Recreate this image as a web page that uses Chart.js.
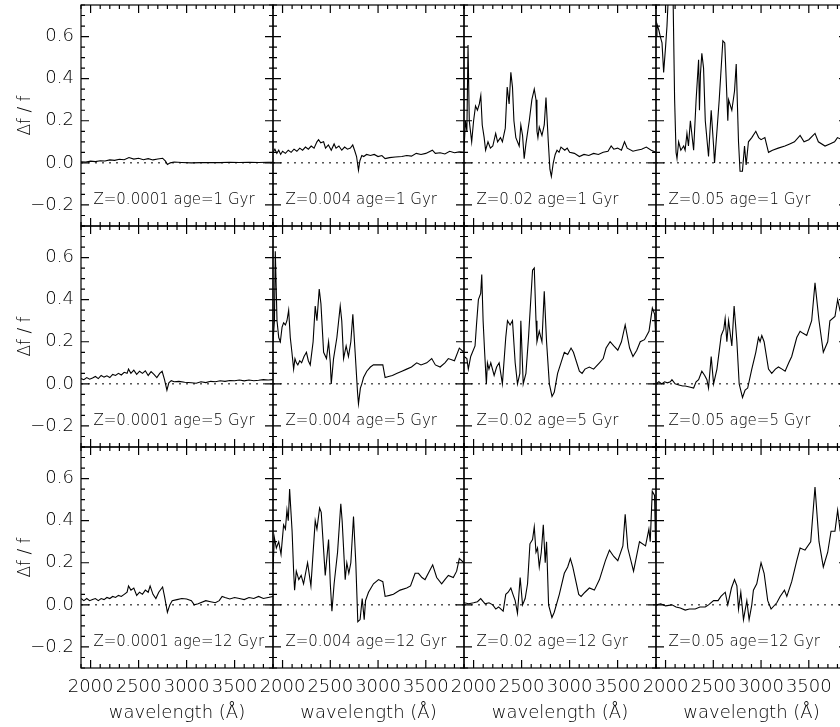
<!DOCTYPE html>
<html>
<head>
<meta charset="utf-8">
<script src="https://cdn.jsdelivr.net/npm/chart.js@4.4.1/dist/chart.umd.min.js"></script>
<style>
  body { margin: 0; background: #fff; overflow: hidden; }
  #fig { position: relative; width: 840px; height: 727px; overflow: hidden; background: #fff; }
  #fig canvas { position: absolute; }
</style>
</head>
<body>
<div id="fig"></div>
<script>
/**************** DATA ****************/
const wavelengthTicks = [2000, 2500, 3000, 3500];
const fluxTicks = [-0.2, 0.0, 0.2, 0.4, 0.6];
const metallicities = ["0.0001", "0.004", "0.02", "0.05"];
const agesGyr = ["1", "5", "12"];

// [wavelength (A), delta f / f]
const a1_z1 = [[1900,.005],[1950,.004],[2000,.008],[2050,.006],[2100,.01],[2150,.009],[2200,.014],[2250,.012],[2300,.017],[2350,.015],[2400,.025],[2450,.018],[2500,.022],[2550,.015],[2600,.02],[2650,.014],[2700,.018],[2750,.022],[2780,.008],[2800,-.008],[2830,0],[2870,.004],[2950,.002],[3050,0],[3150,.001],[3250,.002],[3350,.001],[3450,.003],[3550,.002],[3650,.003],[3750,.002],[3850,.003],[3900,.003]];
const a1_z2 = [[1900,.05],[1920,.065],[1940,.045],[1960,.06],[1980,.04],[2000,.055],[2030,.045],[2060,.06],[2090,.05],[2120,.065],[2150,.055],[2180,.07],[2210,.06],[2240,.075],[2270,.065],[2300,.08],[2330,.07],[2360,.1],[2377,.11],[2400,.095],[2430,.1],[2450,.07],[2480,.085],[2510,.06],[2540,.09],[2560,.07],[2590,.08],[2620,.06],[2650,.075],[2680,.065],[2710,.07],[2735,.085],[2754,.06],[2775,.03],[2795,-.035],[2810,.01],[2830,.035],[2850,.03],[2880,.04],[2920,.035],[2960,.04],[3000,.03],[3040,.035],[3074,.02],[3120,.025],[3180,.028],[3250,.03],[3300,.035],[3350,.032],[3400,.045],[3450,.04],[3500,.045],[3569,.06],[3600,.045],[3650,.048],[3700,.042],[3750,.055],[3800,.048],[3850,.052],[3900,.05]];
const a1_z3 = [[1900,.06],[1915,.2],[1930,.15],[1942,.56],[1955,.2],[1980,.1],[2000,.2],[2020,.27],[2040,.25],[2060,.28],[2075,.32],[2090,.18],[2110,.12],[2125,.06],[2150,.1],[2175,.07],[2200,.08],[2230,.14],[2250,.1],[2280,.12],[2300,.1],[2330,.165],[2350,.36],[2370,.28],[2388,.43],[2405,.36],[2420,.2],[2440,.12],[2475,.08],[2492,.18],[2510,.13],[2527,.02],[2545,.09],[2580,.2],[2607,.3],[2632,.35],[2650,.3],[2660,.15],[2670,.12],[2684,.17],[2712,.13],[2736,.18],[2754,.31],[2778,.1],[2795,-.03],[2810,-.065],[2830,0],[2850,.04],[2869,.06],[2890,.05],[2910,.075],[2950,.06],[2975,.07],[3000,.05],[3050,.045],[3102,.03],[3150,.04],[3200,.035],[3250,.045],[3300,.04],[3350,.05],[3400,.055],[3433,.08],[3460,.065],[3500,.07],[3540,.06],[3572,.1],[3600,.07],[3660,.055],[3700,.06],[3750,.065],[3799,.075],[3850,.06],[3900,.05]];
const a1_z4 = [[1900,.6],[1910,.66],[1930,.63],[1945,.6],[1963,.57],[1980,.43],[2000,.55],[2015,.65],[2030,.8],[2045,.8],[2060,.78],[2080,.75],[2095,.3],[2110,.05],[2120,.02],[2137,.1],[2160,.06],[2190,.08],[2205,.06],[2224,.14],[2240,.08],[2260,.2],[2294,.06],[2320,.3],[2346,.49],[2355,.25],[2365,.42],[2380,.52],[2398,.45],[2416,.2],[2440,.08],[2450,.03],[2478,.25],[2503,.08],[2513,0],[2538,.15],[2562,.3],[2600,.58],[2620,.57],[2652,.2],[2660,.3],[2694,.25],[2722,.34],[2740,.47],[2764,.1],[2780,-.04],[2805,-.04],[2827,.08],[2844,-.01],[2868,.1],[2903,.12],[2945,.15],[2975,.12],[3000,.11],[3040,.12],[3078,.05],[3120,.06],[3180,.07],[3250,.08],[3300,.09],[3350,.1],[3409,.13],[3450,.1],[3500,.11],[3565,.14],[3600,.1],[3670,.08],[3720,.09],[3770,.1],[3800,.12],[3850,.11],[3900,.11]];

const a5_z1 = [[1900,.025],[1930,.02],[1960,.03],[1990,.022],[2020,.028],[2050,.035],[2080,.025],[2110,.04],[2140,.032],[2170,.038],[2200,.03],[2230,.045],[2260,.04],[2290,.05],[2320,.042],[2350,.055],[2380,.05],[2395,.07],[2420,.05],[2450,.065],[2480,.045],[2510,.06],[2540,.05],[2570,.062],[2600,.04],[2630,.058],[2660,.045],[2690,.03],[2720,.05],[2745,.06],[2770,.02],[2795,-.03],[2815,.005],[2840,.015],[2870,.01],[2920,.012],[2980,.008],[3050,.005],[3100,.003],[3150,.01],[3200,.006],[3250,.012],[3300,.01],[3350,.015],[3400,.012],[3450,.016],[3500,.015],[3550,.018],[3600,.014],[3650,.018],[3700,.015],[3750,.017],[3800,.02],[3850,.018],[3900,.02]];
const a5_z2 = [[1900,.2],[1915,.3],[1924,.63],[1942,.3],[1960,.22],[1977,.2],[1995,.27],[2011,.29],[2030,.28],[2046,.3],[2064,.35],[2081,.22],[2098,.15],[2116,.07],[2130,.12],[2145,.1],[2160,.09],[2180,.11],[2200,.1],[2225,.13],[2250,.15],[2270,.11],[2290,.09],[2320,.2],[2342,.37],[2360,.3],[2384,.45],[2402,.38],[2430,.15],[2460,.12],[2482,.2],[2500,.1],[2510,0],[2534,.12],[2569,.22],[2604,.37],[2620,.3],[2639,.12],[2666,.18],[2690,.13],[2715,.2],[2736,.33],[2760,.15],[2785,-.04],[2795,-.095],[2815,-.02],[2830,0],[2848,.03],[2882,.06],[2920,.08],[2952,.09],[3000,.09],[3050,.09],[3074,.03],[3110,.035],[3150,.04],[3200,.05],[3250,.06],[3300,.07],[3350,.08],[3405,.1],[3450,.09],[3510,.1],[3562,.12],[3600,.09],[3650,.08],[3700,.1],[3736,.12],[3800,.11],[3851,.17],[3900,.15]];
const a5_z3 = [[1900,.13],[1930,.12],[1945,.07],[1970,.13],[2015,.18],[2030,.28],[2050,.4],[2074,.43],[2085,.52],[2099,.3],[2115,.15],[2133,0],[2144,.1],[2160,.07],[2179,.1],[2214,.04],[2240,.08],[2266,.1],[2300,0],[2335,.22],[2353,.3],[2380,.28],[2405,.3],[2433,.1],[2457,0],[2482,.05],[2492,.3],[2517,0],[2545,.05],[2572,.22],[2614,.54],[2632,.55],[2650,.3],[2660,.2],[2684,.25],[2712,.2],[2736,.44],[2760,.2],[2789,0],[2817,-.06],[2840,-.04],[2875,.05],[2910,.1],[2945,.15],[2980,.14],[3015,.17],[3040,.15],[3102,.06],[3130,.05],[3160,.07],[3206,.08],[3250,.07],[3311,.1],[3350,.12],[3380,.17],[3422,.2],[3460,.18],[3502,.16],[3540,.2],[3579,.28],[3625,.17],[3660,.13],[3700,.16],[3736,.2],[3780,.21],[3827,.25],[3862,.36],[3886,.33],[3900,.2]];
const a5_z4 = [[1900,0],[1930,.01],[1960,0],[1990,.01],[2020,.005],[2050,.01],[2067,.02],[2100,0],[2140,-.005],[2180,-.01],[2206,-.01],[2250,-.015],[2294,-.02],[2320,.01],[2346,.02],[2380,.06],[2410,.04],[2433,.02],[2450,-.02],[2478,.13],[2503,0],[2538,.07],[2583,.23],[2610,.26],[2624,.31],[2642,.2],[2660,.3],[2694,.18],[2718,.37],[2747,.2],[2771,0],[2806,-.065],[2833,-.03],[2860,-.02],[2903,.07],[2945,.15],[2973,.22],[2990,.2],[3008,.23],[3032,.2],[3078,.07],[3112,.05],[3150,.07],[3182,.08],[3220,.07],[3252,.06],[3290,.1],[3321,.13],[3374,.22],[3409,.25],[3440,.24],[3478,.23],[3530,.3],[3565,.48],[3607,.3],[3652,.15],[3698,.2],[3721,.3],[3774,.32],[3802,.4],[3826,.35],[3860,.38],[3900,.4]];

const a12_z1 = [[1900,.03],[1930,.02],[1960,.03],[1990,.02],[2020,.025],[2050,.03],[2080,.02],[2110,.03],[2140,.025],[2170,.035],[2200,.03],[2230,.04],[2260,.035],[2290,.045],[2320,.04],[2350,.05],[2380,.06],[2395,.09],[2420,.07],[2450,.08],[2480,.045],[2510,.06],[2540,.05],[2570,.07],[2600,.06],[2620,.09],[2650,.05],[2680,.03],[2710,.06],[2750,.085],[2770,.04],[2800,-.035],[2825,0],[2850,.02],[2900,.025],[2950,.03],[3000,.028],[3050,.02],[3080,0],[3120,.005],[3200,.02],[3250,.015],[3300,.01],[3340,.02],[3370,.04],[3400,.035],[3450,.028],[3500,.035],[3550,.03],[3600,.025],[3650,.035],[3700,.03],[3750,.04],[3800,.03],[3850,.035],[3900,.04]];
const a12_z2 = [[1900,.17],[1914,.32],[1935,.27],[1960,.3],[1984,.24],[2011,.38],[2030,.36],[2046,.45],[2060,.4],[2074,.55],[2100,.35],[2116,.16],[2126,.07],[2144,.16],[2170,.12],[2195,.14],[2220,.1],[2262,.2],[2297,.09],[2342,.4],[2360,.36],[2388,.46],[2405,.44],[2447,.14],[2482,.31],[2500,.1],[2517,-.03],[2540,.1],[2576,.25],[2610,.48],[2624,.4],[2656,.12],[2673,.2],[2694,.15],[2715,.2],[2743,.42],[2767,.2],[2788,-.08],[2812,-.07],[2834,.03],[2855,-.07],[2869,.02],[2900,.06],[2952,.1],[3005,.12],[3050,.11],[3074,.04],[3120,.045],[3161,.05],[3231,.07],[3300,.08],[3340,.09],[3388,.15],[3423,.15],[3460,.13],[3492,.12],[3572,.19],[3614,.13],[3666,.1],[3700,.12],[3736,.14],[3788,.13],[3823,.16],[3851,.22],[3900,.2]];
const a12_z3 = [[1900,.01],[1950,.005],[2000,.01],[2040,.015],[2074,.03],[2100,.015],[2120,.005],[2160,.01],[2200,0],[2231,-.02],[2260,-.01],[2308,-.03],[2335,.05],[2360,.06],[2388,.08],[2410,.05],[2433,.02],[2457,-.04],[2485,.13],[2510,0],[2537,.03],[2562,.1],[2587,.29],[2614,.31],[2632,.37],[2650,.25],[2666,.27],[2684,.18],[2705,.25],[2726,.38],[2746,.2],[2760,.3],[2781,0],[2816,-.06],[2840,-.035],[2893,.05],[2945,.15],[2980,.18],[3008,.22],[3033,.18],[3095,.05],[3120,.04],[3160,.06],[3206,.08],[3258,.07],[3311,.12],[3373,.21],[3415,.26],[3460,.23],[3502,.21],[3555,.28],[3579,.43],[3606,.27],[3666,.16],[3728,.3],[3791,.28],[3826,.36],[3840,.3],[3861,.54],[3885,.52],[3895,.3],[3900,.2]];
const a12_z4 = [[1900,0],[1950,.005],[2000,-.005],[2067,0],[2110,-.01],[2154,-.015],[2206,-.025],[2250,-.02],[2311,-.02],[2360,-.01],[2416,-.01],[2450,0],[2503,.02],[2550,.02],[2580,.04],[2625,.06],[2652,0],[2690,.08],[2722,.12],[2747,.09],[2764,-.02],[2788,.06],[2816,-.07],[2851,.02],[2875,-.07],[2903,0],[2920,.07],[2955,.1],[3000,.2],[3032,.15],[3070,.02],[3105,-.02],[3165,.01],[3200,.04],[3245,.07],[3270,.04],[3321,.11],[3374,.21],[3409,.27],[3460,.26],[3520,.3],[3565,.56],[3607,.3],[3652,.18],[3698,.25],[3733,.35],[3774,.35],[3802,.45],[3826,.36],[3860,.42],[3900,.45]];

const spectra = [
  [a1_z1, a1_z2, a1_z3, a1_z4],
  [a5_z1, a5_z2, a5_z3, a5_z4],
  [a12_z1, a12_z2, a12_z3, a12_z4]
];

/**************** LAYOUT ****************/
const FONT = "'DejaVu Sans', sans-serif";
const WEIGHT = "300";
const colLeft = [81, 273, 464, 656];
const colWidth = [192, 191, 192, 191];
const rowTop = [5, 226, 447];
const PH = 221;
const AXW = 81, AXH = 59, PAD_T = 5, PAD_R = 12;

const fmtY = v => (v < 0 ? "\u2212" : "") + Math.abs(v).toFixed(1);

// keep Chart.js from shifting the plot box for label overhang
function fixBox(s, size) {
  if (s.isHorizontal()) s.height = size; else s.width = size;
  s.paddingTop = 0; s.paddingBottom = 0; s.paddingLeft = 0; s.paddingRight = 0;
}

/**************** IDL STYLE FRAME ****************/
const idlFrame = {
  id: "idlFrame",
  afterDatasetsDraw(chart, args, opts) {
    const { ctx, chartArea: a, scales: { x, y } } = chart;
    ctx.save();
    ctx.strokeStyle = "#000";
    ctx.lineWidth = 1.2;
    ctx.beginPath();
    for (let w = 1900; w <= 3900; w += 100) {
      const px = x.getPixelForValue(w);
      const len = wavelengthTicks.includes(w) ? 8 : 4;
      ctx.moveTo(px, a.bottom); ctx.lineTo(px, a.bottom - len);
      ctx.moveTo(px, a.top); ctx.lineTo(px, a.top + len);
    }
    for (let k = -6; k <= 15; k++) {
      const py = y.getPixelForValue(k * 0.05);
      const len = k % 4 === 0 ? 8 : 4;
      ctx.moveTo(a.left, py); ctx.lineTo(a.left + len, py);
      ctx.moveTo(a.right, py); ctx.lineTo(a.right - len, py);
    }
    ctx.stroke();
    ctx.strokeRect(a.left, a.top, a.right - a.left, a.bottom - a.top);

    ctx.fillStyle = "#000";
    ctx.font = WEIGHT + " 15px " + FONT;
    ctx.textAlign = "left";
    ctx.textBaseline = "middle";
    ctx.fillText(opts.label, x.getPixelForValue(2030), y.getPixelForValue(-0.175));
    ctx.restore();
  }
};

/**************** PANELS ****************/
const fig = document.getElementById("fig");

spectra.forEach((row, r) => {
  row.forEach((pts, c) => {
    const cv = document.createElement("canvas");
    const w = AXW + colWidth[c] + PAD_R;
    const h = PAD_T + PH + AXH;
    cv.width = w; cv.height = h;
    cv.style.left = (colLeft[c] - AXW) + "px";
    cv.style.top = (rowTop[r] - PAD_T) + "px";
    cv.style.width = w + "px"; cv.style.height = h + "px";
    fig.appendChild(cv);

    const label = "Z=" + metallicities[c] + " age=" + agesGyr[r] + " Gyr";
    const axisFont = { family: FONT, size: 18, weight: WEIGHT };

    new Chart(cv, {
      type: "line",
      data: {
        datasets: [
          {
            data: pts.map(p => ({ x: p[0], y: p[1] })),
            borderColor: "#000",
            borderWidth: 1.1,
            pointRadius: 0,
            tension: 0
          },
          {
            data: [{ x: 1900, y: 0 }, { x: 3900, y: 0 }],
            borderColor: "#000",
            borderWidth: 1,
            borderDash: [2, 5],
            pointRadius: 0
          }
        ]
      },
      options: {
        responsive: false,
        animation: false,
        devicePixelRatio: 1,
        layout: { padding: { top: PAD_T, right: PAD_R, left: 0, bottom: 0 } },
        plugins: {
          legend: { display: false },
          tooltip: { enabled: false },
          idlFrame: { label }
        },
        scales: {
          x: {
            type: "linear",
            position: "bottom",
            min: 1900, max: 3900,
            afterBuildTicks: s => { s.ticks = wavelengthTicks.map(v => ({ value: v })); },
            afterFit: s => fixBox(s, AXH),
            grid: { display: false, drawTicks: false },
            border: { display: false },
            ticks: {
              display: r === 2, autoSkip: false, maxRotation: 0, minRotation: 0,
              padding: 9, color: "#000", font: axisFont,
              callback: v => String(v)
            },
            title: {
              display: r === 2, text: "wavelength (\u00C5)", color: "#000",
              font: axisFont, padding: { top: 0, bottom: 3 }
            }
          },
          y: {
            type: "linear",
            position: "left",
            min: -0.3, max: 0.75,
            afterBuildTicks: s => { s.ticks = fluxTicks.map(v => ({ value: v })); },
            afterFit: s => fixBox(s, AXW),
            grid: { display: false, drawTicks: false },
            border: { display: false },
            ticks: {
              display: c === 0, padding: 7, color: "#000",
              font: axisFont,
              callback: v => fmtY(v)
            },
            title: {
              display: c === 0, text: "\u0394f / f", color: "#000",
              font: { family: FONT, size: 17, weight: WEIGHT }, padding: { top: 15, bottom: 0 }
            }
          }
        }
      },
      plugins: [idlFrame]
    });
  });
});
</script>
</body>
</html>
